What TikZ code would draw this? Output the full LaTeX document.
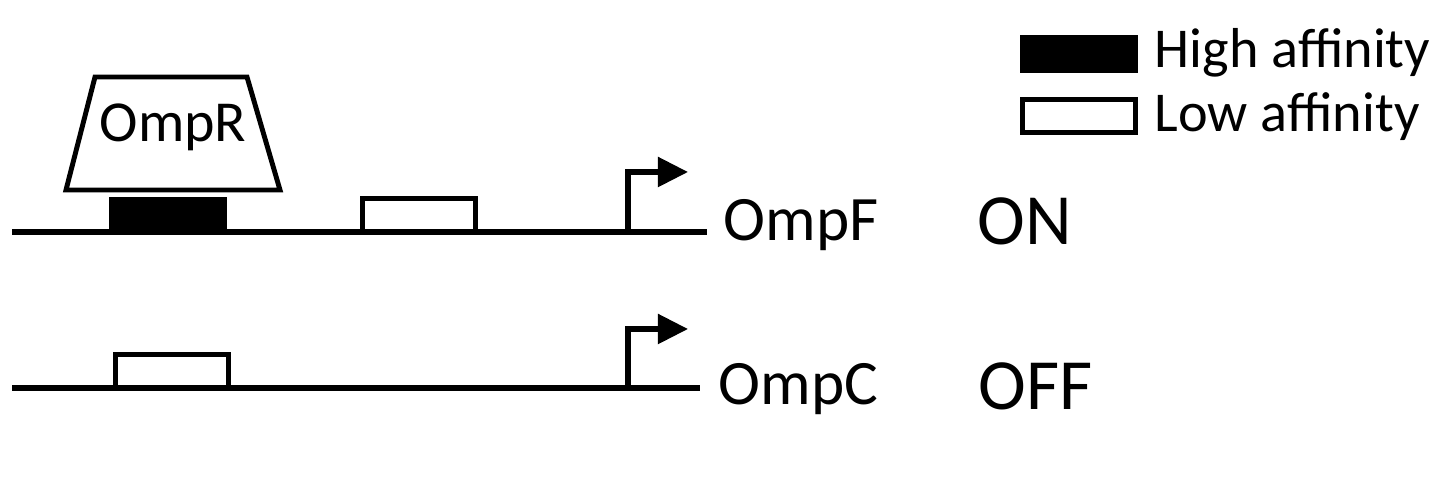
\documentclass[tikz,border=0pt]{standalone}
\usepackage{fontspec}
\setmainfont{Carlito}
\usetikzlibrary{arrows.meta,positioning}
\tikzset{
  dna/.style={line width=1.5pt},
  site/.style={draw,line width=1.4pt,inner sep=0pt,minimum width=1.13cm,minimum height=0.33cm},
  hisite/.style={site,fill=black},
  losite/.style={site,fill=white},
  prot/.style={draw,line width=1.4pt},
  prom/.style={line width=1.5pt,-{Triangle[length=0.3cm,width=0.29cm]}},
  gene/.style={anchor=base west,inner sep=0pt,font=\fontsize{18}{20}\selectfont},
  onoff/.style={anchor=base west,inner sep=0pt,font=\fontsize{20.5}{22}\selectfont},
  legtext/.style={anchor=base west,inner sep=0pt,font=\fontsize{16}{18}\selectfont}
}
\begin{document}
\begin{tikzpicture}[x=0.01cm,y=-0.01cm]
  \useasboundingbox (0,0) rectangle (1440,486);
  % OmpF promoter
  \coordinate (fL) at (12,232);
  \coordinate (fR) at (707,232);
  \coordinate (fP) at (628,232);
  \coordinate (fT) at (688,172);
  \draw[dna] (fL) -- (fR);
  \node[hisite] (hiF) at (168,216) {};
  \node[losite] (loF) at (419,215) {};
  \draw[prom] (fP) |- (fT);
  \draw[prot] (66,190) -- (95,77) -- (247,77) -- (280,190) -- cycle;
  \node[inner sep=0pt,font=\fontsize{16.5}{18}\selectfont] (ompr) at (173,127) {OmpR};
  \node[gene] (ompf) at (723,241) {OmpF};
  \node[onoff] (on) at (977,245) {ON};
  % OmpC promoter
  \coordinate (cL) at (12,388);
  \coordinate (cR) at (700,388);
  \coordinate (cP) at (628,388);
  \coordinate (cT) at (688,329);
  \draw[dna] (cL) -- (cR);
  \node[losite] (loC) at (172,371) {};
  \draw[prom] (cP) |- (cT);
  \node[gene] (ompc) at (718,405) {OmpC};
  \node[onoff] (off) at (978,410) {OFF};
  % legend
  \node[hisite] (leghi) at (1079,54) {};
  \node[losite] (leglo) at (1079,116) {};
  \node[legtext] (hitext) at (1154,68) {High affinity};
  \node[legtext] (lotext) at (1154,132) {Low affinity};
\end{tikzpicture}
\end{document}
